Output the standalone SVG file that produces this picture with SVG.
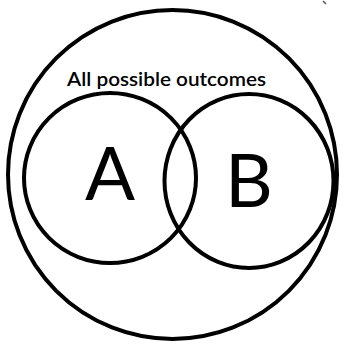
<svg xmlns="http://www.w3.org/2000/svg" width="345" height="345" viewBox="0 0 345 345">
  <style>
    .ring { fill: none; stroke: #000; stroke-width: 4; }
    .lbl { font-family: Lato, "Liberation Sans", sans-serif; fill: #000; }
    .big { font-size: 74px; text-anchor: middle; }
  </style>
  <rect width="345" height="345" fill="#fff"/>
  <g id="universe">
    <circle class="ring" cx="172.5" cy="174.5" r="164.5"/>
    <text class="lbl" x="67" y="86" font-size="19" font-weight="600" textLength="199" lengthAdjust="spacingAndGlyphs">All possible outcomes</text>
  </g>
  <g id="setA">
    <ellipse class="ring" cx="110" cy="178" rx="86" ry="85"/>
    <text class="lbl big" x="110" y="200">A</text>
  </g>
  <g id="setB">
    <ellipse class="ring" cx="249" cy="181" rx="84.5" ry="87"/>
    <text class="lbl big" x="249" y="207">B</text>
  </g>
  <g id="connectors"/>
  <path d="M323 1 L326 4" stroke="#555" stroke-width="1.5" fill="none"/>
</svg>
